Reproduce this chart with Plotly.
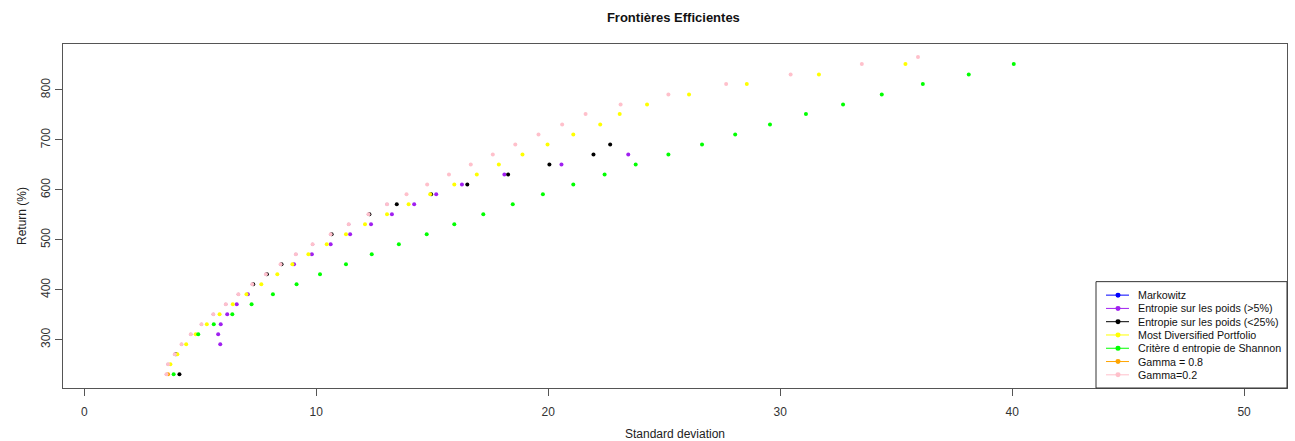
import plotly.graph_objects as go

# ---- data (std deviation, return %) ----
markowitz_sd = [3.54, 3.61, 3.90, 4.19, 4.59, 5.05, 5.56, 6.10, 6.64, 7.24, 7.83, 8.46, 9.12, 9.84, 10.62, 11.40, 12.25, 13.05]
markowitz_ret = [231, 251, 271, 291, 311, 331, 351, 371, 391, 411, 431, 451, 471, 491, 511, 531, 551, 571]

purple_sd = [5.86, 5.77, 5.88, 6.16, 6.57, 7.05, 9.04, 9.81, 10.62, 11.46, 12.36, 13.26, 14.22, 15.17, 16.28, 18.11, 20.57, 23.45]
purple_ret = [291, 311, 331, 351, 371, 391, 451, 471, 491, 511, 531, 551, 571, 591, 611, 631, 651, 671]

black_sd = [4.10, 3.95, 7.28, 7.87, 8.50, 10.66, 12.29, 13.47, 14.95, 16.51, 18.27, 20.05, 21.95, 22.67]
black_ret = [231, 271, 411, 431, 451, 511, 551, 571, 591, 611, 631, 651, 671, 691]

mdp_sd = [3.71, 4.01, 4.39, 4.80, 5.28, 5.83, 6.40, 6.99, 7.63, 8.32, 8.97, 9.66, 10.45, 11.28, 12.10, 13.05,
          13.98, 14.91, 15.95, 16.92, 17.87, 18.89, 19.97, 21.08, 22.24, 23.08, 24.26, 26.07, 28.56, 31.67, 35.40]
mdp_ret = [251, 271, 291, 311, 331, 351, 371, 391, 411, 431, 451, 471, 491, 511, 531, 551,
           571, 591, 611, 631, 651, 671, 691, 711, 731, 752, 771, 791, 812, 831, 852]

shannon_sd = [3.85, 4.91, 5.58, 6.38, 7.21, 8.13, 9.15, 10.16, 11.28, 12.39, 13.56, 14.76, 15.95, 17.20, 18.47,
              19.77, 21.08, 22.43, 23.77, 25.18, 26.63, 28.06, 29.56, 31.11, 32.71, 34.38, 36.15, 38.13, 40.07]
shannon_ret = [231, 311, 331, 351, 371, 391, 411, 431, 451, 471, 491, 511, 531, 551, 571,
               591, 611, 631, 651, 671, 691, 711, 731, 752, 771, 791, 812, 831, 852]

g08_sd = [3.61]
g08_ret = [231]

g02_sd = [3.54, 3.61, 3.90, 4.19, 4.59, 5.05, 5.56, 6.10, 6.64, 7.24, 7.83, 8.46, 9.12, 9.84, 10.62, 11.40, 12.25,
          13.05, 13.89, 14.78, 15.72, 16.66, 17.61, 18.58, 19.58, 20.60, 21.61, 23.12, 25.18, 27.67, 30.45, 33.52, 35.94]
g02_ret = [231, 251, 271, 291, 311, 331, 351, 371, 391, 411, 431, 451, 471, 491, 511, 531, 551,
           571, 591, 611, 631, 651, 671, 691, 711, 731, 752, 771, 791, 812, 831, 852, 866]

x_ticks = [0, 10, 20, 30, 40, 50]
y_ticks = [300, 400, 500, 600, 700, 800]

series_names = ["Markowitz", "Entropie sur les poids (>5%)", "Entropie sur les poids (<25%)",
                "Most Diversified Portfolio", "Critère d entropie de Shannon", "Gamma = 0.8", "Gamma=0.2"]
series_colors = ["#0000FF", "#A020F0", "#000000", "#FFFF00", "#00FF00", "#FFA500", "#FFC0CB"]
series_x = [markowitz_sd, purple_sd, black_sd, mdp_sd, shannon_sd, g08_sd, g02_sd]
series_y = [markowitz_ret, purple_ret, black_ret, mdp_ret, shannon_ret, g08_ret, g02_ret]
# Markowitz points sit exactly under the Gamma=0.2 points (hidden in the original)
series_size = [3, 4, 4, 4, 4, 4, 4]

fig = go.Figure()
for name, col, xs, ys, sz in zip(series_names, series_colors, series_x, series_y, series_size):
    fig.add_trace(go.Scatter(x=xs, y=ys, mode="markers", name=name, showlegend=False,
                             marker=dict(color=col, size=sz, line=dict(width=0))))

font = "Liberation Sans, Arial, sans-serif"

# ---- manual legend box (R-style, compact) in paper coordinates ----
L, R_, T, B = 63, 1287, 44, 388.5
def px(x):
    return (x - L) / (R_ - L)
def py(y):
    return (B - y) / (B - T)

shapes = [dict(type="rect", xref="paper", yref="paper", x0=px(1096), x1=px(1287), y0=py(388.5), y1=py(282),
               line=dict(color="#333", width=1), fillcolor="white", layer="above")]
annotations = []
for i, (name, col) in enumerate(zip(series_names, series_colors)):
    yc = 295.5 + 13.3 * i
    shapes.append(dict(type="line", xref="paper", yref="paper", x0=px(1106), x1=px(1129), y0=py(yc), y1=py(yc),
                       line=dict(color=col, width=1), layer="above"))
    shapes.append(dict(type="circle", xref="paper", yref="paper", x0=px(1115.5), x1=px(1120.5),
                       y0=py(yc + 2.5), y1=py(yc - 2.5), line=dict(color=col, width=0), fillcolor=col, layer="above"))
    annotations.append(dict(xref="paper", yref="paper", x=px(1136), y=py(yc), text=name, showarrow=False,
                            xanchor="left", yanchor="middle", font=dict(size=10.7, color="#111", family=font)))

fig.update_layout(
    width=1295, height=441,
    margin=dict(l=63, r=8, t=44, b=52.5, autoexpand=False),
    paper_bgcolor="white", plot_bgcolor="white",
    font=dict(family=font, size=12, color="#222"),
    title=dict(text="<b>Frontières Efficientes</b>", x=0.52, xanchor="center", y=0.96, yanchor="middle",
               font=dict(size=13, color="#111")),
    showlegend=False,
    shapes=shapes,
    annotations=annotations,
)
fig.update_xaxes(range=[-0.92, 51.85], tickvals=x_ticks, ticks="outside", ticklen=7, tickcolor="#555",
                 showline=True, mirror=True, linecolor="#555", linewidth=1, showgrid=False, zeroline=False,
                 automargin=False, ticklabelstandoff=6,
                 title=dict(text="Standard deviation", font=dict(size=12), standoff=13),
                 tickfont=dict(size=12, color="#333"))
fig.update_yaxes(range=[203.4, 892], tickvals=y_ticks, ticks="outside", ticklen=7, tickcolor="#555",
                 showline=True, mirror=True, linecolor="#555", linewidth=1, showgrid=False, zeroline=False,
                 automargin=False, tickangle=-90, ticklabelstandoff=0,
                 title=dict(text="Return (%)", font=dict(size=12), standoff=10),
                 tickfont=dict(size=12, color="#333"))

fig.write_html("out.html")
